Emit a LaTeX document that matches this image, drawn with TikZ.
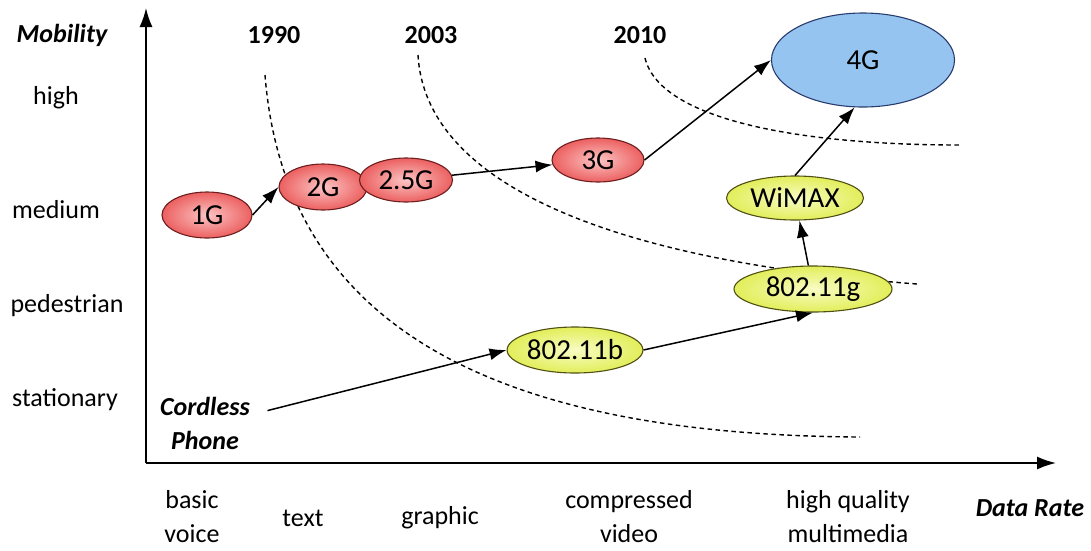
\documentclass[tikz,border=0pt]{standalone}
\usepackage{fontspec}
\setmainfont{Carlito}
\usetikzlibrary{arrows.meta,shapes.geometric}
\definecolor{genred}{RGB}{236,96,96}
\definecolor{genredin}{RGB}{252,196,196}
\definecolor{genredline}{RGB}{110,30,30}
\definecolor{wifiyel}{RGB}{226,238,90}
\definecolor{wifiyelin}{RGB}{248,252,196}
\definecolor{wifiline}{RGB}{80,80,20}
\definecolor{fourblue}{RGB}{150,196,240}
\definecolor{fourline}{RGB}{40,60,110}
\tikzset{
  lbl/.style={font=\fontsize{26}{34}\selectfont, align=center, inner sep=0pt},
  bold lbl/.style={lbl, font=\fontsize{26}{34}\selectfont\bfseries\itshape},
  year/.style={lbl, font=\fontsize{26}{34}\selectfont\bfseries},
  gen/.style={ellipse, draw=genredline, line width=1.1pt, inner sep=0pt,
    inner color=genredin, outer color=genred,
    font=\fontsize{29}{30}\selectfont},
  wifi/.style={ellipse, draw=wifiline, line width=1.1pt, inner sep=0pt,
    inner color=wifiyelin, outer color=wifiyel,
    font=\fontsize{29}{30}\selectfont},
  era/.style={dash pattern=on 4.5pt off 3.5pt, line width=1.4pt},
  flow/.style={-{Latex[length=17pt,width=12pt]}, line width=1.5pt},
}
\begin{document}
\begin{tikzpicture}[x=1pt,y=-1pt]
  \useasboundingbox (0,0) rectangle (1091,550);
  % axes
  \coordinate (o) at (146,463);
  \coordinate (ytop) at (146,8);
  \coordinate (xend) at (1056,463);
  \draw [-{Latex[length=19pt,width=13pt]}, line width=1.7pt] (o) -- (ytop);
  \draw [-{Latex[length=19pt,width=13pt]}, line width=1.7pt] (o) -- (xend);
  \node [bold lbl] (mobility) at (62,35) {Mobility};
  \node [bold lbl] (datarate) at (1030,508) {Data Rate};
  \node [lbl] (high) at (56,98) {high};
  \node [lbl] (medium) at (56,210) {medium};
  \node [lbl] (pedestrian) at (67,306) {pedestrian};
  \node [lbl] (stationary) at (65,400) {stationary};
  \node [lbl] (voice) at (192,517) {basic\\voice};
  \node [lbl] (text) at (303,518) {text};
  \node [lbl] (graphic) at (440,518) {graphic};
  \node [lbl] (video) at (629,517) {compressed\\video};
  \node [lbl] (multimedia) at (848,517) {high quality\\multimedia};
  \node [year] (y1990) at (274,35) {1990};
  \node [year] (y2003) at (431,35) {2003};
  \node [year] (y2010) at (640,35) {2010};
  % era borders
  \draw [era] (265,75) .. controls (285,330) and (500,435) .. (860,437);
  \draw [era] (418,55) .. controls (425,180) and (600,260) .. (917,284);
  \draw [era] (645,58) .. controls (660,120) and (800,145) .. (960,145);
  % technologies
  \node [gen, minimum width=90pt, minimum height=46pt] (g1) at (207,215) {1G};
  \node [gen, minimum width=88pt, minimum height=46pt] (g2) at (323,187) {2G};
  \node [gen, minimum width=93pt, minimum height=44pt] (g25) at (406,180) {2.5G};
  \node [gen, minimum width=92pt, minimum height=44pt] (g3) at (598,160) {3G};
  \node [ellipse, draw=fourline, line width=1.1pt, fill=fourblue, inner sep=0pt,
    minimum width=183pt, minimum height=94pt, font=\fontsize{29}{30}\selectfont]
    (g4) at (863,60) {4G};
  \node [wifi, minimum width=137pt, minimum height=44pt] (wimax) at (795,198) {WiMAX};
  \node [wifi, minimum width=158pt, minimum height=46pt] (wg) at (813,289) {802.11g};
  \node [wifi, minimum width=135pt, minimum height=46pt] (wb) at (575,350) {802.11b};
  \node [bold lbl] (cordless) at (205,423) {Cordless\\Phone};
  % evolution
  \draw [flow] (g1.east) -- (g2.west);
  \draw [flow] (g25) -- (g3);
  \draw [flow] (g3.east) -- (g4.west);
  \draw [flow] (wimax.north) -- (g4.-100);
  \draw [flow] (wg) -- (wimax);
  \draw [flow] (wb.east) -- (wg.south);
  \draw [flow, shorten <=18pt] ([yshift=8pt]cordless.east) -- (wb.west);
\end{tikzpicture}
\end{document}
